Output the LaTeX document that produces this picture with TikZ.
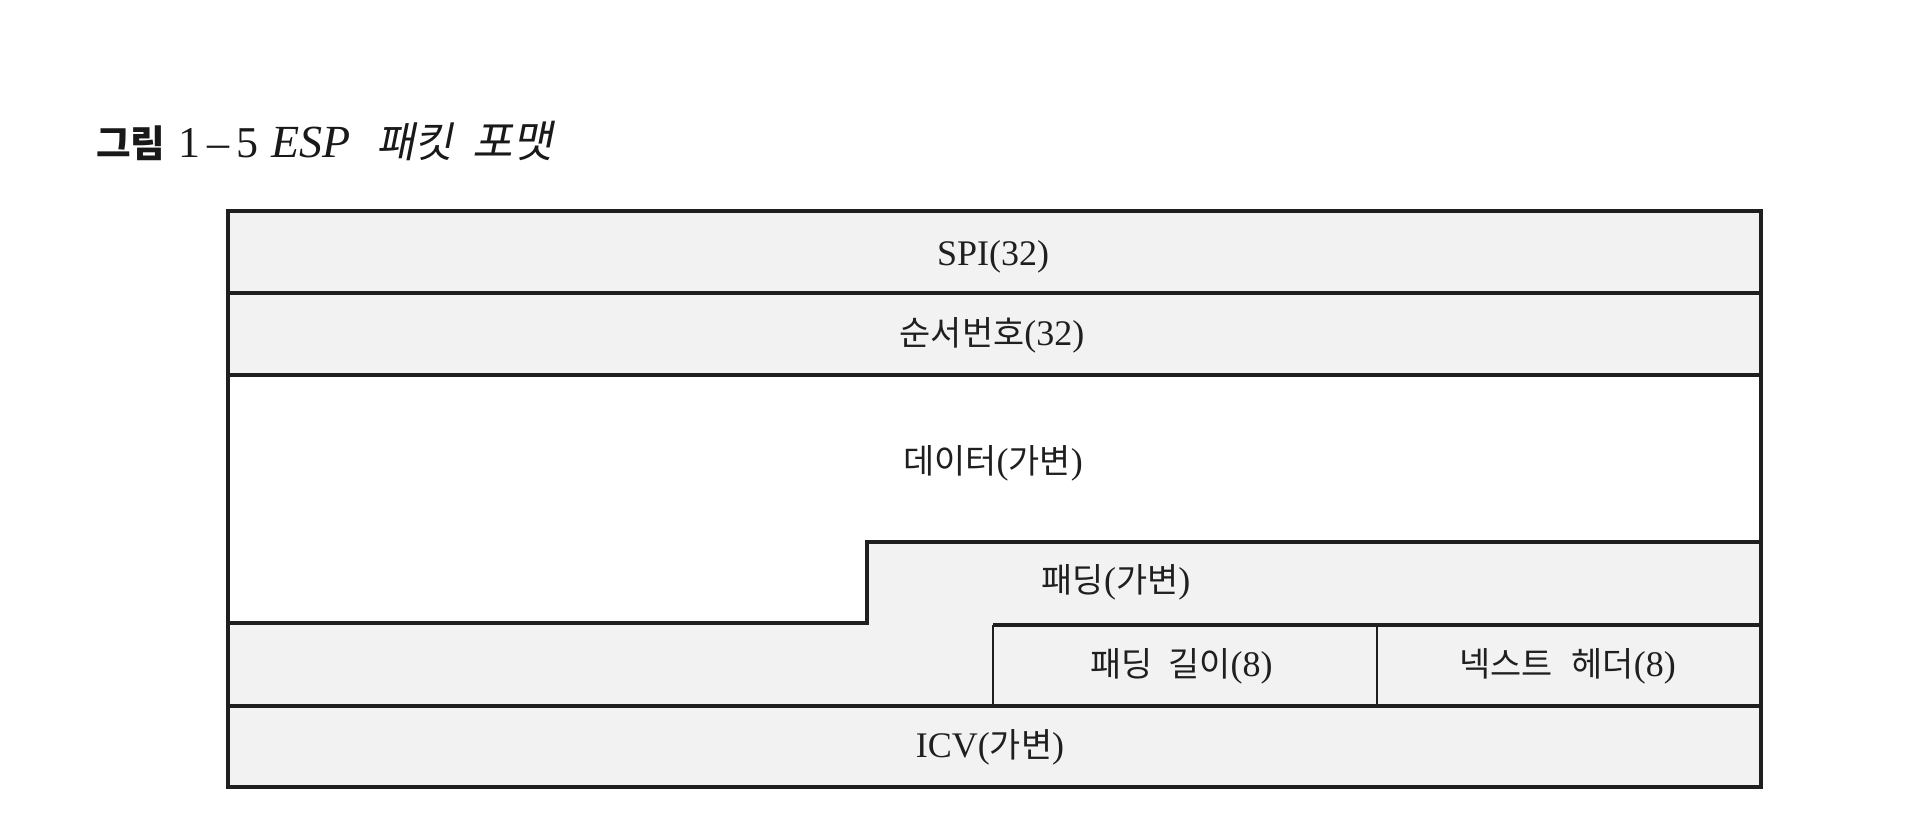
\documentclass[tikz,border=0pt]{standalone}
\usepackage{fontspec}
\setmainfont{Liberation Serif}
\newfontfamily\cjk{Noto Sans CJK KR}[Scale=0.94]
\newfontfamily\cjkslant{Noto Sans CJK KR}[FakeSlant=0.2]
\newcommand{\K}[1]{{\cjk #1}}
\begin{document}
\begin{tikzpicture}[x=1pt,y=-1pt,
  rule/.style={line width=3.8pt,draw=black!88,line join=miter},
  thin rule/.style={line width=2.4pt,draw=black!88},
  paper/.style={fill=black!5},
  label/.style={font=\fontsize{36}{40}\selectfont,text=black!88,inner sep=0pt},
  titlepart/.style={anchor=base west,inner sep=0pt,text=black!90}]
\useasboundingbox[fill=white] (0,0) rectangle (1926,816);
% fills
\fill[paper] (228,211) rectangle (1761,375);
\fill[paper] (867,542) -- (1761,542) -- (1761,787) -- (228,787) -- (228,623) -- (867,623) -- cycle;
% rules
\draw[rule] (228,211) rectangle (1761,787);
\draw[rule] (228,293) -- (1761,293);
\draw[rule] (228,375) -- (1761,375);
\draw[rule] (228,623) -- (867,623) -- (867,542) -- (1761,542);
\draw[rule] (993,625) -- (1761,625);
\draw[thin rule] (993,625) -- (993,706);
\draw[thin rule] (1377,625) -- (1377,706);
\draw[rule] (228,706) -- (1761,706);
% labels
\node[label] (spi) at (993,257) {SPI(32)};
\node[label] (seq) at (992,335) {\K{순서번호}(32)};
\node[label] (data) at (993,463) {\K{데이터}(\K{가변})};
\node[label] (pad) at (1116,582) {\K{패딩}(\K{가변})};
\node[label,anchor=west] (padlen) at (1090,666) {\K{패딩}\hspace{16pt}\K{길이}(8)};
\node[label,anchor=west] (next) at (1459,666) {\K{넥스트}\hspace{19pt}\K{헤더}(8)};
\node[label] (icv) at (990,747) {ICV(\K{가변})};
% title
\node[titlepart,font=\fontsize{40}{44}\selectfont] (t1) at (96,157) {{\cjk\bfseries 그림}};
\node[titlepart,font=\fontsize{44}{48}\selectfont] (t2) at (178,157) {1\kern7pt--\kern7pt5};
\node[titlepart,font=\fontsize{46}{50}\selectfont] (t3) at (271,157) {\textit{ESP}};
\node[titlepart,font=\fontsize{42}{46}\selectfont] (t4) at (376,157) {{\cjkslant 패킷}};
\node[titlepart,font=\fontsize{44}{48}\selectfont] (t5) at (472,157) {{\cjkslant 포맷}};
\end{tikzpicture}
\end{document}
